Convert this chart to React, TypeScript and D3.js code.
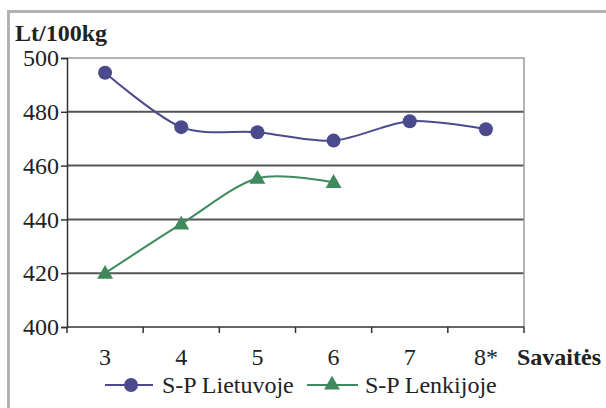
import { useEffect, useRef } from 'react'
import * as d3 from 'd3'

const weeks = ['3', '4', '5', '6', '7', '8*']
const lietuvoje = [494.5, 474.3, 472.4, 469.3, 476.5, 473.5]
const lenkijoje = [420, 438.3, 455.3, 453.8]
const yTicks = [400, 420, 440, 460, 480, 500]

const W = 606
const H = 408
const margin = { top: 58, right: 82, bottom: 81, left: 67 }
const purple = '#4b4a8c'
const green = '#3f8a5d'
const serif = 'Liberation Serif'

export default function App() {
  const svgRef = useRef<SVGSVGElement>(null)

  useEffect(() => {
    if (!svgRef.current) return
    const svg = d3.select(svgRef.current)
    svg.selectAll('*').remove()

    const x = d3
      .scaleBand<string>()
      .domain(weeks)
      .range([margin.left, W - margin.right])
      .padding(0)
    const y = d3
      .scaleLinear()
      .domain([400, 500])
      .range([H - margin.bottom, margin.top])
    const cx = (i: number) => x(weeks[i])! + x.bandwidth() / 2

    // outer frame
    svg.append('rect').attr('width', W).attr('height', H).attr('fill', '#fff')
    svg
      .append('path')
      .attr('d', `M8.5,${H} V11.5 H${W}`)
      .attr('fill', 'none')
      .attr('stroke', '#b3b3b3')
      .attr('stroke-width', 3)

    // grid lines
    svg
      .append('g')
      .selectAll('line')
      .data(yTicks.filter(t => t > 400 && t < 500))
      .join('line')
      .attr('x1', margin.left)
      .attr('x2', W - margin.right)
      .attr('y1', d => y(d))
      .attr('y2', d => y(d))
      .attr('stroke', '#555')
      .attr('stroke-width', 2)

    // top + right border of plot
    svg
      .append('path')
      .attr('d', `M${margin.left},${y(500)} H${W - margin.right} V${y(400)}`)
      .attr('fill', 'none')
      .attr('stroke', '#9a9a9a')
      .attr('stroke-width', 1.5)

    // y axis
    const yAxis = svg
      .append('g')
      .attr('transform', `translate(${margin.left},0)`)
      .call(d3.axisLeft(y).tickValues(yTicks).tickSize(6).tickPadding(2))
    yAxis.attr('font-family', null).attr('font-size', null)
    yAxis.select('.domain').attr('stroke', '#333').attr('stroke-width', 1.5)
    yAxis.selectAll('.tick line').attr('stroke', '#333').attr('stroke-width', 1.5)
    yAxis.selectAll('.tick text').attr('fill', '#222')

    // x axis with ticks at band edges
    const xg = svg.append('g')
    xg.append('line')
      .attr('x1', margin.left)
      .attr('x2', W - margin.right)
      .attr('y1', y(400))
      .attr('y2', y(400))
      .attr('stroke', '#333')
      .attr('stroke-width', 1.5)
    const edges = [...weeks.map(w => x(w)!), W - margin.right]
    xg.selectAll('.edge')
      .data(edges)
      .join('line')
      .attr('x1', d => d)
      .attr('x2', d => d)
      .attr('y1', y(400))
      .attr('y2', y(400) + 6)
      .attr('stroke', '#333')
      .attr('stroke-width', 1.5)
    xg.selectAll('.lbl')
      .data(weeks)
      .join('text')
      .attr('x', (d, i) => cx(i))
      .attr('y', 365)
      .attr('text-anchor', 'middle')
      .attr('fill', '#222')
      .text(d => d)

    // axis titles
    svg
      .append('text')
      .attr('x', 15)
      .attr('y', 41)
      .attr('fill', '#222')
      .attr('font-weight', 'bold')
      .text('Lt/100kg')
    svg
      .append('text')
      .attr('x', 517)
      .attr('y', 365)
      .attr('fill', '#222')
      .attr('font-weight', 'bold')
      .text('Savaitės')

    // series lines
    const line = d3
      .line<number>()
      .x((d, i) => cx(i))
      .y(d => y(d))
      .curve(d3.curveCardinal.tension(0.1))

    svg
      .append('path')
      .datum(lietuvoje)
      .attr('fill', 'none')
      .attr('stroke', purple)
      .attr('stroke-width', 2)
      .attr('d', line)
    svg
      .append('path')
      .datum(lenkijoje)
      .attr('fill', 'none')
      .attr('stroke', green)
      .attr('stroke-width', 2)
      .attr('d', line)

    svg
      .append('g')
      .selectAll('circle')
      .data(lietuvoje)
      .join('circle')
      .attr('cx', (d, i) => cx(i))
      .attr('cy', d => y(d))
      .attr('r', 7)
      .attr('fill', purple)

    const tri = d3.symbol().type(d3.symbolTriangle).size(110)
    svg
      .append('g')
      .selectAll('path')
      .data(lenkijoje)
      .join('path')
      .attr('transform', (d, i) => `translate(${cx(i)},${y(d) + 1})`)
      .attr('d', tri)
      .attr('fill', green)

    // legend
    const ly = 385
    const leg = svg.append('g')
    leg.append('line')
      .attr('x1', 105).attr('x2', 153).attr('y1', ly).attr('y2', ly)
      .attr('stroke', purple).attr('stroke-width', 2)
    leg.append('circle').attr('cx', 131).attr('cy', ly).attr('r', 7).attr('fill', purple)
    leg.append('text')
      .attr('x', 162).attr('y', ly + 8)
      .attr('fill', '#222')
      .text('S-P Lietuvoje')
    leg.append('line')
      .attr('x1', 307).attr('x2', 358).attr('y1', ly).attr('y2', ly)
      .attr('stroke', green).attr('stroke-width', 2)
    leg.append('path')
      .attr('transform', `translate(332,${ly})`)
      .attr('d', tri)
      .attr('fill', green)
    leg.append('text')
      .attr('x', 365).attr('y', ly + 8)
      .attr('fill', '#222')
      .text('S-P Lenkijoje')
  }, [])

  return (
    <svg
      ref={svgRef}
      width={W}
      height={H}
      style={{
        position: 'absolute',
        left: 0,
        top: 0,
        display: 'block',
        fontFamily: serif,
        fontSize: 24,
      }}
    />
  )
}
